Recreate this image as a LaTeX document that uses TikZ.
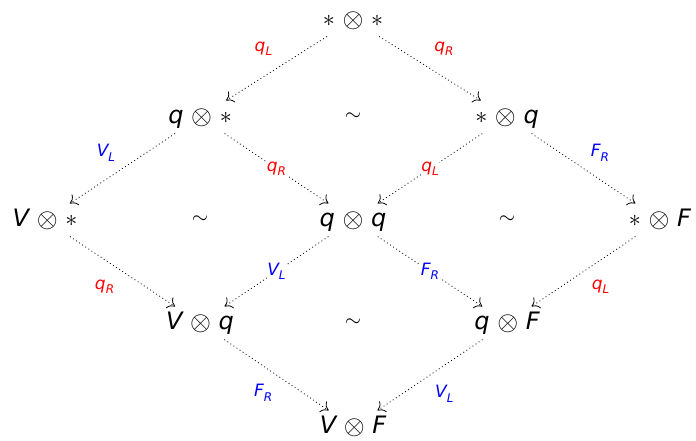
\RequirePackage{fix-cm}
\documentclass[tikz,border=0pt]{standalone}
\usepackage{fontspec}
\setmainfont{DejaVu Sans}
\usetikzlibrary{arrows.meta}
\tikzset{
  obj/.style={font=\fontsize{24}{28}\selectfont, inner xsep=1pt, text height=16pt, text depth=4pt, minimum height=32pt, outer sep=0pt},
  sim/.style={font=\fontsize{21}{24}\selectfont},
  mor/.style={-{To[length=7pt,width=13pt]}, dash pattern=on 0.9pt off 2.8pt, line width=0.8pt, shorten <=1pt, shorten >=1pt},
  lbl/.style={font=\fontsize{17}{20}\selectfont, inner sep=1pt},
  rd/.style={lbl, text={rgb,255:red,255;green,0;blue,0}},
  bl/.style={lbl, text={rgb,255:red,0;green,0;blue,255}},
  onl/.style={fill=white, inner sep=0.5pt}
}
\newcommand\tens{\hspace{0.32em}\raisebox{-0.06em}{\scalebox{1.12}{$\otimes$}}\hspace{0.32em}}
\newcommand\myast{$\ast$}
\newcommand\vi[1]{{\itshape #1}}
\newcommand\sub[2]{\vi{#1}\raisebox{-0.25em}{\fontsize{12}{13}\selectfont\vi{#2}}}
\begin{document}
\begin{tikzpicture}[x=1pt,y=-1pt]
\useasboundingbox (0,0) rectangle (696,440);
\node[obj] (ss) at (353,20) {\myast\tens\myast};
\node[obj] (qs) at (200,117) {\vi{q}\tens\myast};
\node[obj] (sq) at (507,117) {\myast\tens\vi{q}};
\node[obj] (Vs) at (45,220) {\vi{V}\tens\myast};
\node[obj] (qq) at (353,220) {\vi{q}\tens\vi{q}};
\node[obj] (sF) at (660,220) {\myast\tens\vi{F}};
\node[obj] (Vq) at (200,323) {\vi{V}\tens\vi{q}};
\node[obj] (qF) at (507,323) {\vi{q}\tens\vi{F}};
\node[obj] (VF) at (353,427) {\vi{V}\tens\vi{F}};
\node[sim] (t1) at (353,117) {$\sim$};
\node[sim] (t2) at (200,220) {$\sim$};
\node[sim] (t3) at (507,220) {$\sim$};
\node[sim] (t4) at (353,323) {$\sim$};
\draw[mor] (ss) -- node[rd, pos=0.45, above left=8pt] {\sub{q}{L}} (qs);
\draw[mor] (ss) -- node[rd, pos=0.45, above right=8pt] {\sub{q}{R}} (sq);
\draw[mor] (qs) -- node[bl, pos=0.5, above left=6pt] {\sub{V}{L}} (Vs);
\draw[mor] (qs) -- node[rd, onl, pos=0.5] {\sub{q}{R}} (qq);
\draw[mor] (sq) -- node[rd, onl, pos=0.5] {\sub{q}{L}} (qq);
\draw[mor] (sq) -- node[bl, pos=0.5, above right=6pt] {\sub{F}{R}} (sF);
\draw[mor] (Vs) -- node[rd, pos=0.5, below left=7pt] {\sub{q}{R}} (Vq);
\draw[mor] (qq) -- node[bl, onl, pos=0.5] {\sub{V}{L}} (Vq);
\draw[mor] (qq) -- node[bl, onl, pos=0.5] {\sub{F}{R}} (qF);
\draw[mor] (sF) -- node[rd, pos=0.5, below right=7pt] {\sub{q}{L}} (qF);
\draw[mor] (Vq) -- node[bl, pos=0.53, below left=6pt] {\sub{F}{R}} (VF);
\draw[mor] (qF) -- node[bl, pos=0.53, below right=7pt] {\sub{V}{L}} (VF);
\end{tikzpicture}
\end{document}
